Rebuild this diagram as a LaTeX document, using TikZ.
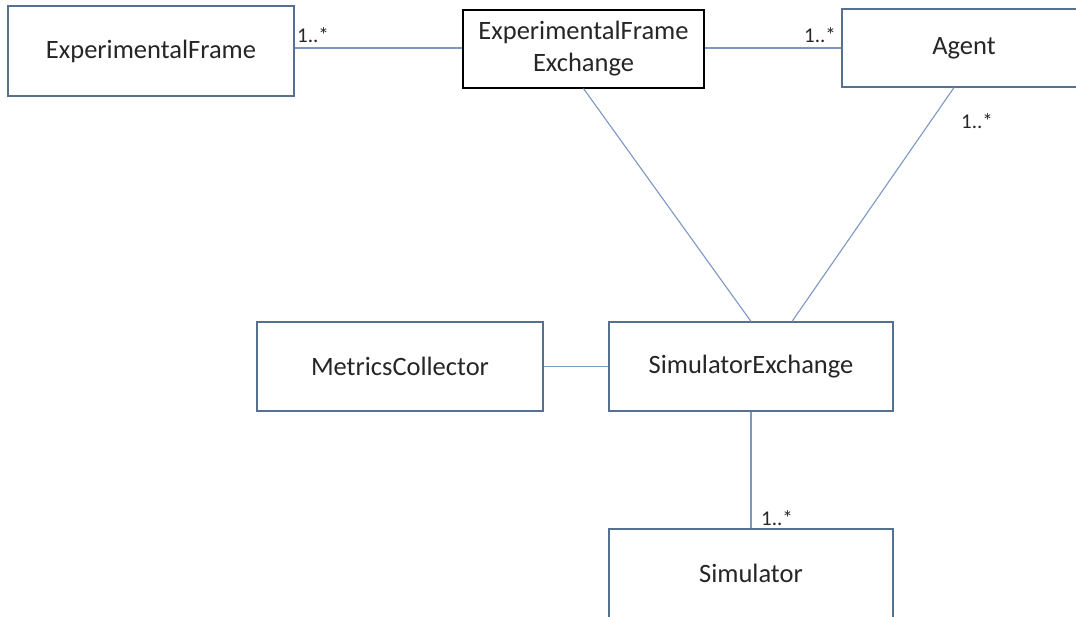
\documentclass[tikz,border=0pt]{standalone}
\usepackage{fontspec}
\setmainfont{Carlito}
\definecolor{boxline}{HTML}{56708F}
\definecolor{conn}{HTML}{7C98C2}
\definecolor{txt}{HTML}{262626}
\begin{document}
\begin{tikzpicture}[x=1pt,y=-1pt,
  cls/.style={draw=boxline,line width=1.1pt,fill=white,inner sep=0pt,text=txt,
    font=\fontsize{26.5}{32}\selectfont,align=center},
  conline/.style={draw=conn,line width=1.1pt},
  mult/.style={text=txt,font=\fontsize{21}{22}\selectfont,inner sep=0pt}]
\clip (0,0) rectangle (1076,616);
\fill[white] (0,0) rectangle (1076,616);
% classes
\node[cls,minimum width=286pt,minimum height=90pt] (EF) at (151,51) {ExperimentalFrame};
\node[cls,draw=black,minimum width=241pt,minimum height=78pt] (EFE) at (583.5,49) {ExperimentalFrame\\Exchange};
\node[cls,minimum width=244pt,minimum height=78pt] (AG) at (964,48) {Agent};
\node[cls,minimum width=286pt,minimum height=89pt] (MC) at (400,366.5) {MetricsCollector};
\node[cls,minimum width=284pt,minimum height=89pt] (SE) at (751,366.5) {SimulatorExchange};
\node[cls,minimum width=284pt,minimum height=89pt] (SIM) at (751,573.5) {Simulator};
% connectors
\draw[conline] (EF.east |- AG.west) -- (EFE.west |- AG.west);
\draw[conline] (EFE.east |- AG.west) -- (AG.west);
\draw[conline] (EFE.south) -- (SE.north);
\draw[conline] ([xshift=-10pt]AG.south) -- ([xshift=41pt]SE.north);
\draw[conline] (MC.east) -- (SE.west);
\draw[conline] (SE.south) -- (SIM.north);
% multiplicities
\node[mult] (m1) at (313,35) {1..*};
\node[mult] (m2) at (820,35) {1..*};
\node[mult] (m3) at (977,121) {1..*};
\node[mult] (m4) at (777,518) {1..*};
\end{tikzpicture}
\end{document}
